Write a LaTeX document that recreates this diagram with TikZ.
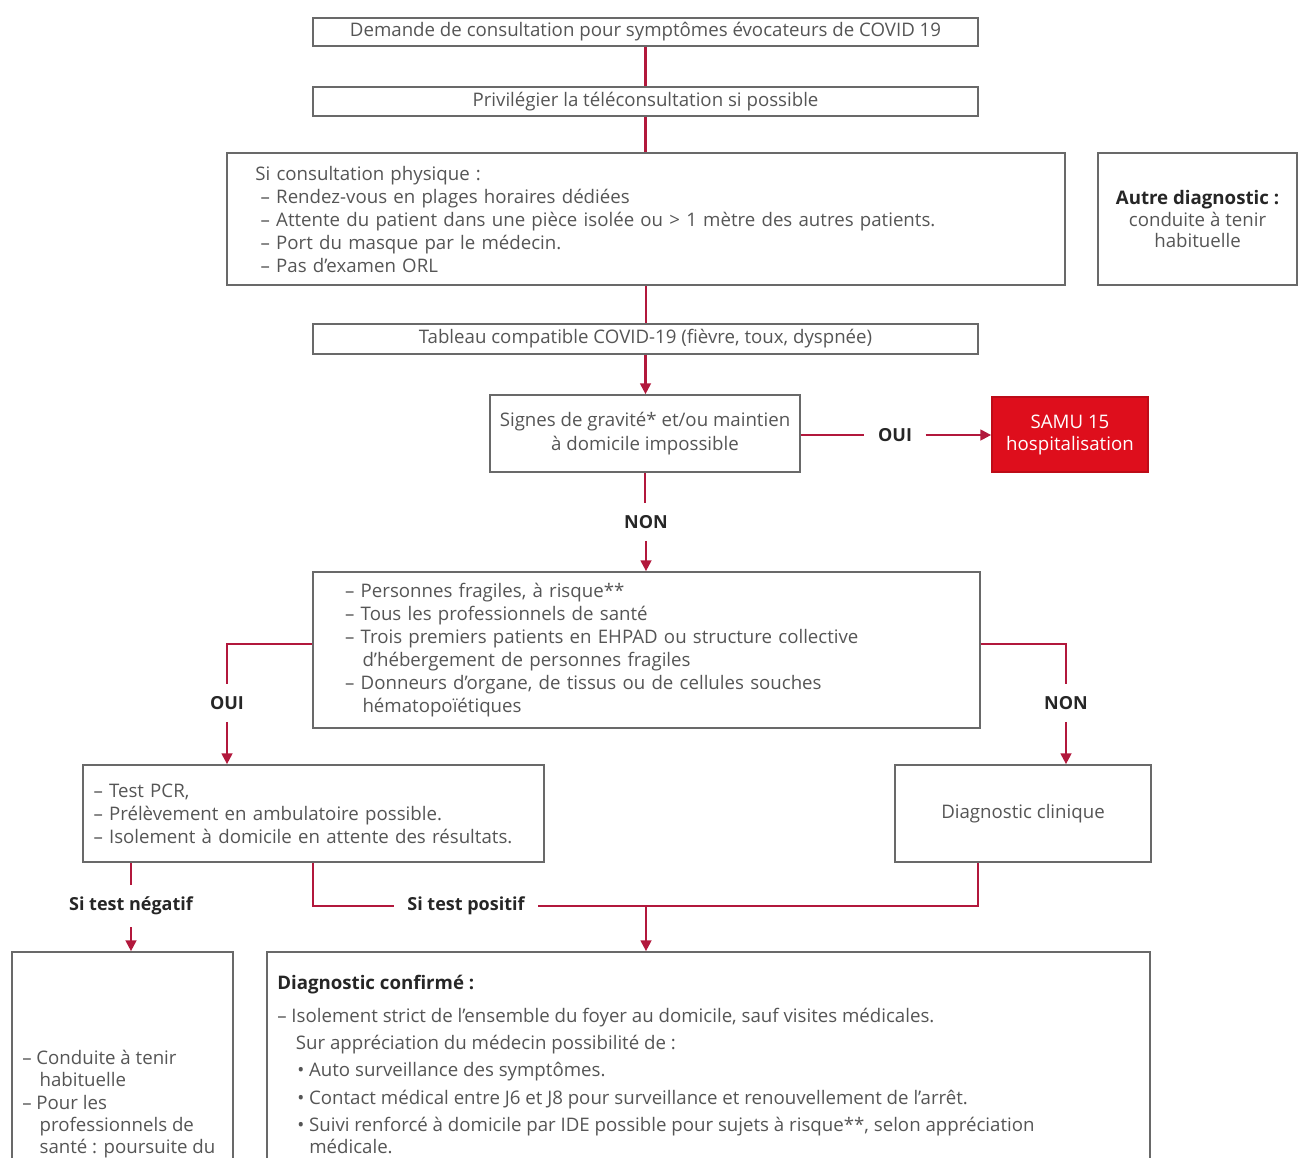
\documentclass[tikz,border=0pt]{standalone}
\usepackage{fontspec}
\setmainfont{Open Sans}
\usetikzlibrary{arrows.meta}
\definecolor{conn}{RGB}{178,24,60}
\definecolor{boxc}{RGB}{105,105,105}
\definecolor{txt}{RGB}{85,85,85}
\definecolor{samu}{RGB}{222,14,28}
\begin{document}
\begin{tikzpicture}[x=0.75pt,y=-0.75pt,
  every node/.style={text=txt, font=\fontsize{14}{17.25}\selectfont},
  box/.style={draw=boxc, line width=1.3pt, inner sep=0pt},
  lbl/.style={font=\bfseries\fontsize{13.5}{15}\selectfont, text=black!85, inner xsep=10pt, inner ysep=9pt},
  cn/.style={draw=conn, line width=1.6pt},
  ar/.style={cn, -{Triangle[length=8pt,width=8pt]}}
]
\useasboundingbox (0,0) rectangle (1299,1157);
\clip (0,0) rectangle (1299,1157);

% boxes
\node[box, minimum width=498.75pt, minimum height=21pt] (b1) at (645.5,32)
  {Demande de consultation pour symptômes évocateurs de COVID 19};
\node[box, minimum width=498.75pt, minimum height=21.75pt] (b2) at (645.5,101.5)
  {Privilégier la téléconsultation si possible};
\node[box, minimum width=628.5pt, minimum height=99pt, text width=586pt, align=left] (b3) at (646,219)
  {Si consultation physique :\\
   \hspace*{4pt}– Rendez-vous en plages horaires dédiées\\
   \hspace*{4pt}– Attente du patient dans une pièce isolée ou > 1 mètre des autres patients.\\
   \hspace*{4pt}– Port du masque par le médecin.\\
   \hspace*{4pt}– Pas d'examen ORL};
\node[box, minimum width=149.25pt, minimum height=99pt, align=center, font=\fontsize{14}{16.2}\selectfont] (b3r) at (1197.5,219)
  {\textcolor{black!85}{\textbf{Autre diagnostic :}}\\conduite à tenir\\habituelle};
\node[box, minimum width=498.75pt, minimum height=22.5pt] (b4) at (645.5,339)
  {Tableau compatible COVID-19 (fièvre, toux, dyspnée)};
\node[box, minimum width=232.5pt, minimum height=57.75pt, align=center, font=\fontsize{14}{18}\selectfont] (b5) at (645,433.5)
  {Signes de gravité* et/ou maintien\\à domicile impossible};
\node[box, draw=samu!85!black, fill=samu, minimum width=117pt, minimum height=56.25pt, align=center, text=white,
  font=\fontsize{14}{16.5}\selectfont] (samu) at (1070,434.5) {SAMU 15\\hospitalisation};
\node[box, minimum width=500.25pt, minimum height=117pt, text width=452pt, align=left] (b6) at (646.5,650)
  {– Personnes fragiles, à risque**\\
   – Tous les professionnels de santé\\
   – Trois premiers patients en EHPAD ou structure collective\\
   \hspace*{13pt}d'hébergement de personnes fragiles\\
   – Donneurs d'organe, de tissus ou de cellules souches\\
   \hspace*{13pt}hématopoïétiques};
\node[box, minimum width=345.75pt, minimum height=72.75pt, text width=330pt, align=left] (b7) at (313.5,813.5)
  {– Test PCR,\\
   – Prélèvement en ambulatoire possible.\\
   – Isolement à domicile en attente des résultats.};
\node[box, minimum width=192pt, minimum height=72.75pt] (b8) at (1023,813.5) {Diagnostic clinique};
\node[box, minimum width=165.75pt, minimum height=261pt] (b9) at (122.5,1126) {};
\node[box, minimum width=662.25pt, minimum height=261pt] (b10) at (708.5,1126) {};

\node[anchor=north west, align=left, inner sep=0pt, font=\fontsize{14}{16.7}\selectfont] (t9) at (22,1050)
  {– Conduite à tenir\\
   \hspace*{13pt}habituelle\\
   – Pour les\\
   \hspace*{13pt}professionnels de\\
   \hspace*{13pt}santé : poursuite du};
\node[anchor=north west, align=left, inner sep=0pt, font=\fontsize{14}{20.5}\selectfont] (t10) at (277,975)
  {\textcolor{black!85}{\textbf{Diagnostic confirmé :}}\\[4pt]
   – Isolement strict de l'ensemble du foyer au domicile, sauf visites médicales.\\
   \hspace*{14pt}Sur appréciation du médecin possibilité de :\\
   \hspace*{15pt}• Auto surveillance des symptômes.\\
   \hspace*{15pt}• Contact médical entre J6 et J8 pour surveillance et renouvellement de l'arrêt.\\
   \hspace*{15pt}• Suivi renforcé à domicile par IDE possible pour sujets à risque**, selon appréciation\\[-4pt]
   \hspace*{24pt}médicale.};

% labels
\node[lbl] (oui1) at (895,435) {OUI};
\node[lbl] (non1) at (646,522) {NON};
\node[lbl] (oui2) at (227,703) {OUI};
\node[lbl] (non2) at (1066,703) {NON};
\node[lbl] (neg) at (131,906) {Si test négatif};
\node[lbl] (pos) at (466,906) {Si test positif};

\coordinate (pj) at (313,906);
\coordinate (pr) at (978,906);
\coordinate (pm) at (646,906);

% connectors
\draw[cn] (b1.south) -- (b2.north);
\draw[cn] (b2.south) -- (b3.north -| b2.south);
\draw[cn] (b3.south) -- (b4.north -| b3.south);
\draw[ar] (b4.south) -- (b5.north -| b4.south);
\draw[cn] (b5.east |- oui1) -- (oui1.west);
\draw[ar] (oui1.east) -- (samu.west |- oui1);
\draw[cn] (b5.south) -- (non1.north -| b5.south);
\draw[ar] (non1.south) -- (non1 |- b6.north);
\draw[cn] ([yshift=4.5pt]b6.west) -| (oui2.north);
\draw[ar] (oui2.south) -- (oui2 |- b7.north);
\draw[cn] ([yshift=4.5pt]b6.east) -| (non2.north);
\draw[ar] (non2.south) -- (non2 |- b8.north);
\draw[cn] (neg |- b7.south) -- (neg.north);
\draw[ar] (neg.south) -- (neg |- b9.north);
\draw[cn] (pj |- b7.south) -- (pj) -- (pos.west);
\draw[cn] (pos.east) -- (pr) -- (pr |- b8.south);
\draw[ar] (pm) -- (pm |- b10.north);
\end{tikzpicture}
\end{document}
